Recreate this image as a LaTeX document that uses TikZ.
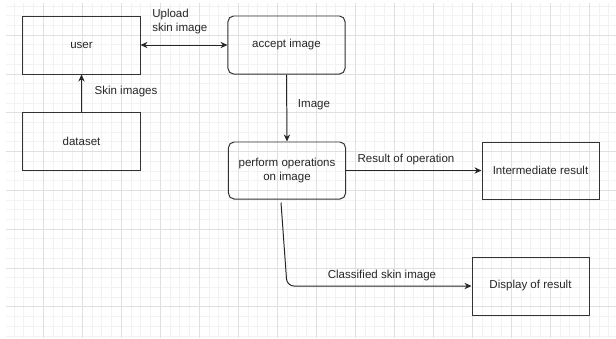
\documentclass[tikz,border=0pt]{standalone}
\usepackage{fontspec}
\setmainfont{Liberation Sans}
\usetikzlibrary{arrows.meta,positioning,calc}

\tikzset{
  blockbox/.style={draw=black!80, line width=0.7pt, minimum width=2.925cm, minimum height=1.45cm, inner sep=0pt, align=center, text=black!85, font=\fontsize{8.2}{10}\selectfont},
  roundbox/.style={blockbox, rounded corners=4pt},
  arr/.style={-{Stealth[length=5pt,width=4.5pt]}, line width=0.7pt, black!85},
  lbl/.style={text=black!85, font=\fontsize{8.2}{10}\selectfont, inner sep=0pt, align=left}
}

\begin{document}
\begin{tikzpicture}[x=0.025cm, y=-0.025cm]
    \useasboundingbox (0,0) rectangle (616,338);
    \fill[white] (0,0) rectangle (616,338);

    % Grid
    \begin{scope}
        \clip (6,3) rectangle (616,338);
        \foreach \i in {0,...,64} \draw[black!5, line width=0.3pt] (4+\i*9.75,0) -- (4+\i*9.75,338);
        \foreach \i in {-4,...,36} \draw[black!5, line width=0.3pt] (0,35+\i*9.7) -- (616,35+\i*9.7);
        \foreach \i in {0,...,16} \draw[black!12, line width=0.4pt] (4+\i*39,0) -- (4+\i*39,338);
        \foreach \i in {-1,...,9} \draw[black!12, line width=0.4pt] (0,35+\i*38.8) -- (616,35+\i*38.8);
    \end{scope}

    % Blocks
    \node[blockbox] (user) at (81.5,45) {user};
    \node[blockbox] (dataset) at (81.5,141) {dataset};
    \node[roundbox] (accept) at (286.5,45) {accept image};
    \node[roundbox, minimum height=1.425cm] (perform) at (287,170.5) {perform operations\\on image};
    \node[blockbox, minimum height=1.425cm] (inter) at (540.5,170.5) {Intermediate result};
    \node[blockbox] (display) at (530.5,286) {Display of result};

    % Connectors
    \draw[arr, {Stealth[length=5pt,width=4.5pt]}-{Stealth[length=5pt,width=4.5pt]}] (user.east) -- (accept.west);
    \draw[arr] (dataset.north) -- (user.south);
    \draw[arr] (accept.south) -- (perform.north);
    \draw[arr] (perform.east) -- (inter.west);
    \draw[arr, rounded corners=5pt] ([shift={(-6,3)}]perform.south) -- (perform.south |- display.west) -- (display.west);

    % Labels
    \node[lbl, anchor=north west] (upload) at (152,9) {Upload\\skin image};
    \node[lbl] (skin) at (126,92) {Skin images};
    \node[lbl] (img) at (314,105) {Image};
    \node[lbl] (res) at (406,160) {Result of operation};
    \node[lbl] (cls) at (382,276) {Classified skin image};
\end{tikzpicture}
\end{document}
